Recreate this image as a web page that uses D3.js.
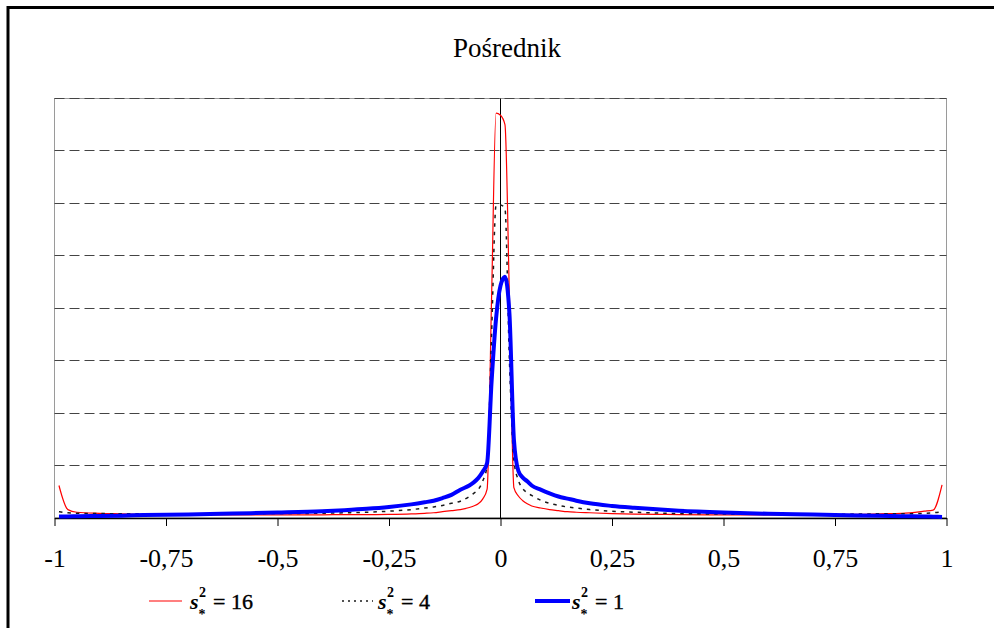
<!DOCTYPE html>
<html>
<head>
<meta charset="utf-8">
<script src="https://cdn.jsdelivr.net/npm/d3@7"></script>
</head>
<body style="margin:0;background:#fff">
<svg id="fig" width="994" height="628"></svg>
<script>
// Bin positions (x) of the distribution curves
const xValues = [
  -0.99, -0.97, -0.95, -0.9, -0.85, -0.8, -0.7, -0.6, -0.5, -0.4,
  -0.35, -0.3, -0.25, -0.2, -0.17, -0.15, -0.13, -0.11, -0.09, -0.07,
  -0.06, -0.05, -0.04, -0.03, -0.02, -0.01,
  0,
  0.01, 0.02, 0.03, 0.04, 0.05, 0.06, 0.07,
  0.09, 0.11, 0.13, 0.15, 0.17, 0.2, 0.25, 0.3, 0.35, 0.4,
  0.5, 0.6, 0.7, 0.8, 0.85, 0.9, 0.95, 0.97, 0.99
];

// Density for s*^2 = 16
const series16 = [
  0.62, 0.16, 0.11, 0.09, 0.08, 0.07, 0.065, 0.06, 0.06, 0.06,
  0.065, 0.065, 0.07, 0.08, 0.09, 0.1, 0.12, 0.14, 0.16, 0.2,
  0.23, 0.27, 0.36, 0.55, 4.2, 7.72,
  7.68,
  7.5, 4.2, 0.58, 0.42, 0.33, 0.27, 0.23,
  0.19, 0.16, 0.14, 0.12, 0.11, 0.1, 0.085, 0.075, 0.07, 0.065,
  0.06, 0.06, 0.065, 0.07, 0.08, 0.09, 0.13, 0.15, 0.63
];

// Density for s*^2 = 4
const series4 = [
  0.12, 0.1, 0.09, 0.085, 0.08, 0.08, 0.08, 0.08, 0.085, 0.09,
  0.1, 0.11, 0.13, 0.16, 0.19, 0.21, 0.24, 0.28, 0.32, 0.41,
  0.47, 0.54, 0.7, 1.0, 3.5, 5.96,
  5.97,
  5.9, 3.0, 1.1, 0.72, 0.56, 0.48, 0.43,
  0.34, 0.28, 0.24, 0.21, 0.19, 0.16, 0.13, 0.11, 0.095, 0.085,
  0.075, 0.07, 0.07, 0.075, 0.08, 0.08, 0.09, 0.1, 0.12
];

// Density for s*^2 = 1
const series1 = [
  0.03, 0.03, 0.035, 0.04, 0.045, 0.055, 0.065, 0.085, 0.105, 0.13,
  0.15, 0.175, 0.21, 0.26, 0.3, 0.33, 0.38, 0.44, 0.54, 0.62,
  0.68, 0.76, 0.88, 1.05, 2.6, 3.8,
  4.43,
  4.6, 3.9, 1.5, 0.9, 0.77, 0.7, 0.62,
  0.54, 0.47, 0.41, 0.37, 0.33, 0.28, 0.23, 0.195, 0.165, 0.14,
  0.105, 0.08, 0.065, 0.05, 0.045, 0.035, 0.03, 0.025, 0.02
];

const seriesVariance = ["16", "4", "1"];
const xTickValues = [-1, -0.75, -0.5, -0.25, 0, 0.25, 0.5, 0.75, 1];
const xTickLabels = ["-1", "-0,75", "-0,5", "-0,25", "0", "0,25", "0,5", "0,75", "1"];
const chartTitle = "Pośrednik";

const FONT = '"Liberation Serif", monospace';
const svg = d3.select("#fig");

// apply the serif face both as attribute and inline style
function serif(sel, size) {
  return sel.attr("font-family", FONT).style("font-family", FONT)
    .attr("font-size", size).style("font-size", size + "px");
}

// outer frame (runs off the right and bottom edges)
svg.append("rect")
  .attr("x", 8).attr("y", 7.5)
  .attr("width", 1200).attr("height", 800)
  .attr("fill", "none").attr("stroke", "#000").attr("stroke-width", 3);

const plot = { left: 54.5, right: 946.5, top: 98.5, bottom: 518 };
const x = d3.scaleLinear().domain([-1, 1]).range([plot.left, plot.right]);
const y = d3.scaleLinear().domain([0, 8]).range([plot.bottom, plot.top]);

// plot area border
svg.append("rect")
  .attr("x", plot.left).attr("y", plot.top)
  .attr("width", plot.right - plot.left).attr("height", plot.bottom - plot.top)
  .attr("fill", "none").attr("stroke", "#9a9a9a").attr("stroke-width", 1);

// dashed horizontal gridlines
svg.append("g").attr("class", "grid")
  .selectAll("line")
  .data(y.ticks(8).filter(d => d > 0))
  .join("line")
  .attr("x1", plot.left).attr("x2", plot.right)
  .attr("y1", d => Math.floor(y(d)) + 0.5)
  .attr("y2", d => Math.floor(y(d)) + 0.5)
  .attr("stroke", "#444").attr("stroke-width", 1)
  .attr("stroke-dasharray", "10,5");

// vertical axis at x = 0
svg.append("line")
  .attr("x1", x(0)).attr("x2", x(0))
  .attr("y1", plot.top).attr("y2", plot.bottom)
  .attr("stroke", "#000").attr("stroke-width", 1);

// horizontal axis
const xAxis = d3.axisBottom(x)
  .tickValues(xTickValues)
  .tickFormat((d, i) => xTickLabels[i])
  .tickSize(8)
  .tickSizeOuter(0)
  .tickPadding(23);

const axisG = svg.append("g")
  .attr("transform", `translate(0,${plot.bottom})`)
  .call(xAxis);
serif(axisG, 26);
axisG.select(".domain").attr("stroke", "#000").attr("stroke-width", 1.5);
axisG.selectAll(".tick line").attr("stroke", "#000").attr("stroke-width", 1);
serif(axisG.selectAll(".tick text"), 26).attr("fill", "#000");

// title
serif(svg.append("text"), 27)
  .attr("x", 507).attr("y", 57)
  .attr("text-anchor", "middle")
  .text(chartTitle);

// curves
const line = d3.line()
  .x((d, i) => x(xValues[i]))
  .y(d => y(d))
  .curve(d3.curveMonotoneX);

const styles = [
  { stroke: "#ff0000", width: 1.2, dash: null, legendDash: null },
  { stroke: "#1a1a1a", width: 1.5, dash: "3.5,5", legendDash: "2,4" },
  { stroke: "#0000ff", width: 4, dash: null, legendDash: null }
];
const allSeries = [series16, series4, series1];

svg.append("g").attr("class", "curves")
  .selectAll("path")
  .data(allSeries)
  .join("path")
  .attr("d", d => line(d))
  .attr("fill", "none")
  .attr("stroke", (d, i) => styles[i].stroke)
  .attr("stroke-width", (d, i) => styles[i].width)
  .attr("stroke-dasharray", (d, i) => styles[i].dash)
  .attr("stroke-linejoin", "round");

// legend
const legendLayout = [
  { x1: 149, x2: 182, tx: 190 },
  { x1: 342, x2: 373, tx: 378 },
  { x1: 535, x2: 570, tx: 572 }
];
const legendY = 601;
const legend = svg.append("g").attr("class", "legend");
seriesVariance.forEach((v, i) => {
  const L = legendLayout[i];
  const g = legend.append("g");
  g.append("line")
    .attr("x1", L.x1).attr("x2", L.x2)
    .attr("y1", legendY).attr("y2", legendY)
    .attr("stroke", styles[i].stroke)
    .attr("stroke-width", styles[i].width)
    .attr("stroke-dasharray", styles[i].legendDash);
  serif(g.append("text"), 22)
    .attr("x", L.tx).attr("y", 609)
    .style("font-style", "italic").style("font-weight", "bold")
    .text("s");
  serif(g.append("text"), 14)
    .attr("x", L.tx + 9).attr("y", 597)
    .style("font-weight", "bold")
    .text("2");
  serif(g.append("text"), 14)
    .attr("x", L.tx + 8.5).attr("y", 619)
    .style("font-weight", "bold")
    .text("*");
  serif(g.append("text"), 22)
    .attr("x", L.tx + 23).attr("y", 609)
    .attr("stroke", "#000").attr("stroke-width", 0.4)
    .text("= " + v);
});
</script>
</body>
</html>
